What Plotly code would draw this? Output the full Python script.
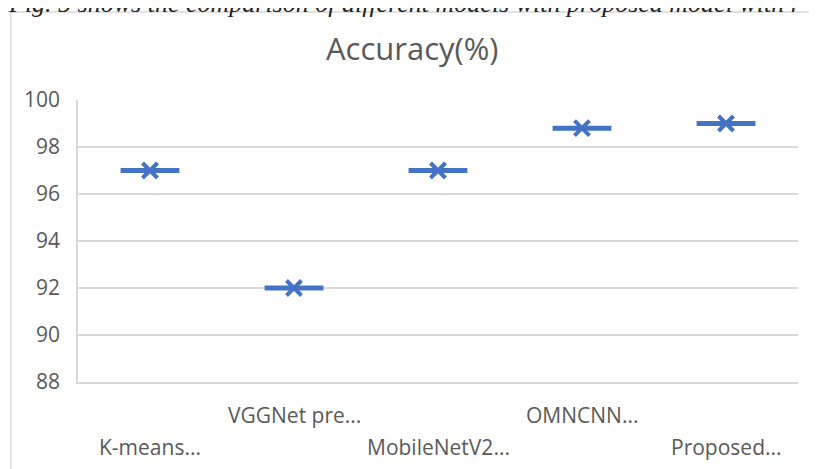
import plotly.graph_objects as go

categories = ["K-means...", "VGGNet pre...", "MobileNetV2...", "OMNCNN...", "Proposed..."]
accuracy = [97.0, 92.0, 97.0, 98.8, 99.0]
y_ticks = [88, 90, 92, 94, 96, 98, 100]
label_row = [1, 0, 1, 0, 1]  # 0 = upper staggered row, 1 = lower row

BLUE = "#4472C4"
GRID = "#d9d9d9"
TXT = "#595959"
FONT = "Open Sans"

fig = go.Figure()
fig.add_trace(go.Scatter(
    x=categories, y=accuracy, mode="markers",
    marker=dict(symbol="line-ew-open", size=42, color=BLUE,
                line=dict(color=BLUE, width=5)),
    hoverinfo="x+y", showlegend=False,
))
fig.add_trace(go.Scatter(
    x=categories, y=accuracy, mode="markers",
    marker=dict(symbol="x-thin-open", size=15, color=BLUE,
                line=dict(color=BLUE, width=4)),
    hoverinfo="skip", showlegend=False,
))

# staggered category labels (as Excel draws them)
for cat, row in zip(categories, label_row):
    fig.add_annotation(
        x=cat, xref="x", y=0, yref="paper", yanchor="middle",
        yshift=-33 if row == 0 else -65,
        text=cat, showarrow=False,
        font=dict(family=FONT, size=21, color=TXT),
    )

# title
fig.add_annotation(
    x=0.465, xref="paper", y=1.184, yref="paper", yanchor="middle",
    text="Accuracy(%)", showarrow=False,
    font=dict(family=FONT, size=31, color=TXT),
)

# page caption, clipped at top
fig.add_annotation(
    x=-0.1, xref="paper", xanchor="left",
    y=1.343, yref="paper", yanchor="middle",
    text="<i>Fig. 5 shows the comparison of different models with proposed model with r</i>",
    showarrow=False,
    font=dict(family="Liberation Serif", size=26, color="#222222"),
)

# chart border
fig.add_shape(type="rect", xref="paper", yref="paper",
              x0=-0.0935, x1=1.2, y0=-0.6, y1=1.312,
              line=dict(color=GRID, width=1.5), fillcolor="rgba(0,0,0,0)",
              layer="below")

fig.update_layout(
    width=809, height=461,
    margin=dict(l=70, r=19, t=92, b=87),
    paper_bgcolor="white", plot_bgcolor="white",
    xaxis=dict(type="category", showticklabels=False, showgrid=False,
               showline=True, linecolor=GRID, linewidth=1.5,
               range=[-0.5, 4.5], fixedrange=True),
    yaxis=dict(range=[88, 100], tickvals=y_ticks, showgrid=True,
               gridcolor=GRID, gridwidth=1.5, zeroline=False,
               showline=True, linecolor=GRID, linewidth=1.5,
               ticklabelstandoff=12,
               tickfont=dict(family=FONT, size=21, color=TXT)),
)

fig.write_html("out.html")
